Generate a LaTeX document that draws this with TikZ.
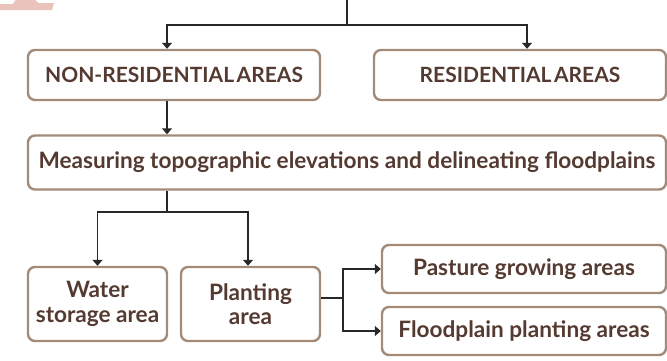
\documentclass[tikz,border=0pt]{standalone}
\usepackage{fontspec}
\setmainfont{Lato}
\usepackage{xcolor}
\usetikzlibrary{arrows.meta,positioning}
\definecolor{boxline}{RGB}{163,139,122}
\definecolor{boxtext}{RGB}{84,58,48}
\definecolor{wire}{RGB}{40,40,40}
\definecolor{logopink}{RGB}{234,196,188}
\tikzset{area box/.style={draw=boxline,line width=2.4pt,rounded corners=7pt,fill=white,
    text=boxtext,font=\bfseries\fontsize{22.6}{24.5}\selectfont,align=center,inner sep=0pt},
  caps box/.style={area box,font=\bfseries\fontsize{21}{24}\selectfont},
  wire/.style={draw=wire,line width=1.4pt,-{Triangle[width=10pt,length=6pt]}},
  plain wire/.style={draw=wire,line width=1.4pt}}

\begin{document}
\begin{tikzpicture}[x=1pt,y=-1pt]
			\useasboundingbox (0,0) rectangle (667,360);
			% cut-off logo
			\fill[logopink] (0,4) -- (13,4) .. controls (15,0) .. (18,0) -- (33,0) .. controls (36,0) .. (38,3) -- (54,3) -- (52,10) -- (0,10) -- cycle;
			\node[caps box,minimum width=292pt,minimum height=50pt] (nonres) at (174,75) {NON-RESIDENTIAL\hspace{0.12em}AREAS};
			\node[caps box,minimum width=292pt,minimum height=50pt] (res) at (520,75) {RESIDENTIAL\hspace{0.12em}AREAS};
			\node[area box,minimum width=638pt,minimum height=54pt] (measure) at (347,162.5) {Measuring topographic elevations and delineating floodplains};
			\node[area box,minimum width=139pt,minimum height=74pt] (water) at (97.5,304) {Water\\storage area};
			\node[area box,minimum width=139pt,minimum height=74pt] (planting) at (250.5,304) {Planting\\area};
			\node[area box,minimum width=284pt,minimum height=48pt] (pasture) at (524,269) {Pasture growing areas};
			\node[area box,minimum width=284pt,minimum height=48pt] (flood) at (524,331) {Floodplain planting areas};
			\coordinate (top) at (347,0);
			\coordinate (split) at (347,25);
			\coordinate (fork) at (167,212);
			\coordinate (side) at (343,298);
			\draw[plain wire] (top) -- (split);
			\draw[wire] (split) -| ([xshift=-7pt]nonres.north);
			\draw[wire] (split) -| ([xshift=7pt]res.north);
			\draw[wire] ([xshift=-7pt]nonres.south) -- ([xshift=-7pt]measure.north -| nonres.south);
			\draw[plain wire] ([xshift=-180pt]measure.south) -- (fork);
			\draw[wire] (fork) -| (water.north);
			\draw[wire] (fork) -| ([xshift=-2.5pt]planting.north);
			\draw[plain wire] (planting.east |- side) -- (side);
			\draw[wire] (side) |- (pasture.west);
			\draw[wire] (side) |- (flood.west);
		\end{tikzpicture}
\end{document}
